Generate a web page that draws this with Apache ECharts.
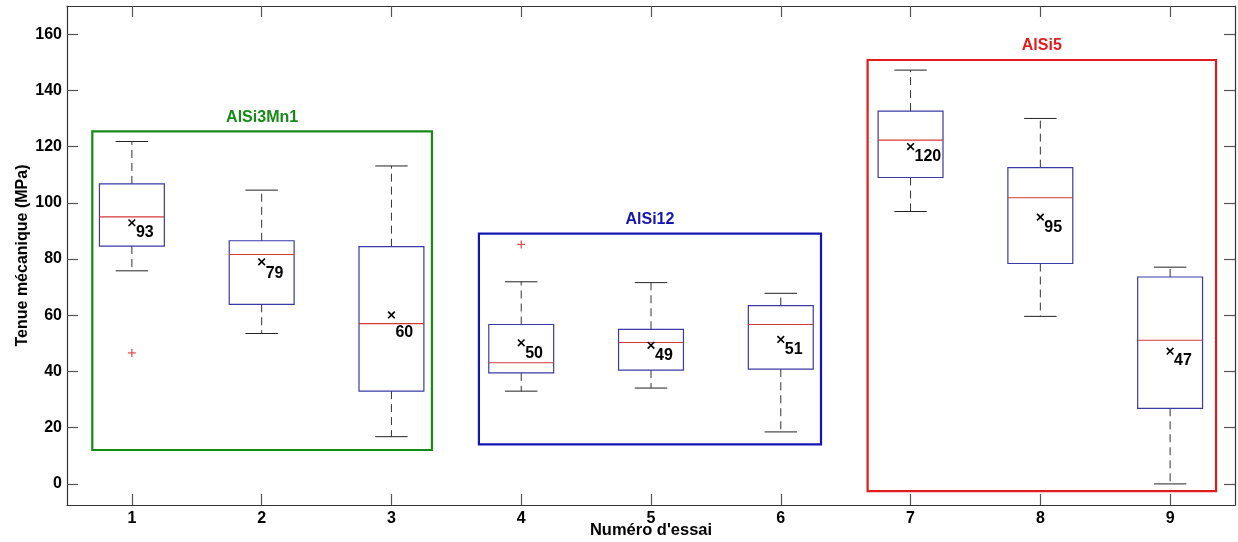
<!DOCTYPE html>
<html>
<head>
<meta charset="utf-8">
<script src="https://cdn.jsdelivr.net/npm/echarts@6/dist/echarts.min.js"></script>
<style>
html,body{margin:0;padding:0;background:#fff;}
#chart{width:1238px;height:542px;}
</style>
</head>
<body>
<div id="chart"></div>
<script>
// ---- Data ----
const trials = [1, 2, 3, 4, 5, 6, 7, 8, 9];
const lowerWhisker = [75.8, 53.5, 16.8, 33.0, 34.1, 18.5, 96.9, 59.6, 0.0];
const q1Values     = [84.6, 63.9, 33.0, 39.5, 40.5, 40.8, 109.0, 78.4, 26.9];
const medians      = [95.0, 81.6, 57.0, 43.1, 50.3, 56.7, 122.3, 101.8, 51.1];
const q3Values     = [106.7, 86.5, 84.4, 56.7, 55.0, 63.4, 132.6, 112.5, 73.6];
const upperWhisker = [121.8, 104.5, 113.1, 71.9, 71.6, 67.8, 147.2, 130.0, 77.1];
const means        = [92.9, 79.0, 60.1, 50.2, 49.3, 51.4, 120.0, 94.9, 47.2];
const outliers     = [[1, 46.6], [4, 85.2]];

const groupNames  = ['AlSi3Mn1', 'AlSi12', 'AlSi5'];
const groupXStart = [0.695, 3.674, 6.669];
const groupXEnd   = [3.312, 6.31, 9.354];
const groupYLow   = [12.06, 14.1, -2.6];
const groupYHigh  = [125.4, 89.0, 150.8];

const xTickValues = [1, 2, 3, 4, 5, 6, 7, 8, 9];
const yTickValues = [0, 20, 40, 60, 80, 100, 120, 140, 160];

// ---- Styling / layout ----
const groupColors = ['#168a16', '#1414b4', '#e01c1c'];
const meanLabelDy = [10, 12, 18, 11, 10, 10, 10, 10, 9];
const FONT = 'Liberation Sans, Arial, sans-serif';

const boxData = trials.map((t, i) => [t, lowerWhisker[i], q1Values[i], medians[i], q3Values[i], upperWhisker[i], means[i]]);
const groupData = groupNames.map((n, i) => [groupXStart[i], groupXEnd[i], groupYLow[i], groupYHigh[i], i]);

function renderBox(params, api) {
  const i = params.dataIndex;
  const x = api.value(0);
  const lo = api.value(1), q1 = api.value(2), md = api.value(3), q3 = api.value(4), hi = api.value(5), mn = api.value(6);
  const bl = api.coord([x - 0.25, q3]);
  const br = api.coord([x + 0.25, q1]);
  const cx = api.coord([x, 0])[0];
  const capL = api.coord([x - 0.125, 0])[0];
  const capR = api.coord([x + 0.125, 0])[0];
  const yLo = api.coord([x, lo])[1], yHi = api.coord([x, hi])[1];
  const yMd = api.coord([x, md])[1];
  const pm = api.coord([x, mn]);
  const dash = {stroke: '#333', lineWidth: 1, lineDash: [8, 5]};
  const solid = {stroke: '#222', lineWidth: 1};
  const s = 3.3;
  return {
    type: 'group',
    children: [
      {type: 'line', shape: {x1: cx, y1: bl[1], x2: cx, y2: yHi}, style: dash},
      {type: 'line', shape: {x1: cx, y1: br[1], x2: cx, y2: yLo}, style: dash},
      {type: 'line', shape: {x1: capL, y1: yHi, x2: capR, y2: yHi}, style: solid},
      {type: 'line', shape: {x1: capL, y1: yLo, x2: capR, y2: yLo}, style: solid},
      {type: 'rect', shape: {x: bl[0], y: bl[1], width: br[0] - bl[0], height: br[1] - bl[1]},
        style: {fill: 'none', stroke: '#3a3aa6', lineWidth: 1.2}},
      {type: 'line', shape: {x1: bl[0], y1: yMd, x2: br[0], y2: yMd}, style: {stroke: '#d23a3a', lineWidth: 1.2}},
      {type: 'line', shape: {x1: pm[0] - s, y1: pm[1] - s, x2: pm[0] + s, y2: pm[1] + s}, style: {stroke: '#000', lineWidth: 1.6}},
      {type: 'line', shape: {x1: pm[0] - s, y1: pm[1] + s, x2: pm[0] + s, y2: pm[1] - s}, style: {stroke: '#000', lineWidth: 1.6}},
      {type: 'text', style: {text: String(Math.round(mn)), x: pm[0] + 4, y: pm[1] + meanLabelDy[i],
        align: 'left', verticalAlign: 'middle', fill: '#000', font: 'bold 16px ' + FONT}}
    ]
  };
}

function renderOutlier(params, api) {
  const p = api.coord([api.value(0), api.value(1)]);
  const s = 4;
  const st = {stroke: '#e04a4a', lineWidth: 1.2};
  return {
    type: 'group',
    children: [
      {type: 'line', shape: {x1: p[0] - s, y1: p[1], x2: p[0] + s, y2: p[1]}, style: st},
      {type: 'line', shape: {x1: p[0], y1: p[1] - s, x2: p[0], y2: p[1] + s}, style: st}
    ]
  };
}

function renderGroup(params, api) {
  const k = api.value(4);
  const p0 = api.coord([api.value(0), api.value(3)]);
  const p1 = api.coord([api.value(1), api.value(2)]);
  const c = groupColors[k];
  return {
    type: 'group',
    children: [
      {type: 'rect', shape: {x: p0[0], y: p0[1], width: p1[0] - p0[0], height: p1[1] - p0[1]},
        style: {fill: 'none', stroke: c, lineWidth: 2.2}},
      {type: 'text', style: {text: groupNames[k], x: (p0[0] + p1[0]) / 2, y: p0[1] - 14,
        align: 'center', verticalAlign: 'middle', fill: c, font: 'bold 16px ' + FONT}}
    ]
  };
}

const axisLineStyle = {color: '#333', width: 1.2};
const tickStyle = {color: '#555', width: 1.2};

const option = {
  animation: false,
  backgroundColor: '#fff',
  grid: {left: 67, right: 3, top: 6, bottom: 37, containLabel: false, outerBoundsMode: 'none'},
  xAxis: [
    {
      type: 'value', min: 0.5, max: 9.5, position: 'bottom',
      name: "Numéro d'essai", nameLocation: 'middle', nameGap: 17, nameMoveOverlap: false,
      nameTextStyle: {fontFamily: FONT, fontWeight: 'bold', fontSize: 16.5, color: '#000'},
      axisLine: {show: true, onZero: false, lineStyle: axisLineStyle},
      axisTick: {show: true, inside: true, length: 11, customValues: xTickValues, lineStyle: tickStyle},
      axisLabel: {show: true, customValues: xTickValues, margin: 6, fontFamily: FONT, fontWeight: 'bold', fontSize: 16, color: '#000'},
      splitLine: {show: false}
    },
    {
      type: 'value', min: 0.5, max: 9.5, position: 'top',
      axisLine: {show: true, onZero: false, lineStyle: axisLineStyle},
      axisTick: {show: true, inside: true, length: 11, customValues: xTickValues, lineStyle: tickStyle},
      axisLabel: {show: false},
      splitLine: {show: false}
    }
  ],
  yAxis: [
    {
      type: 'value', min: -7.5, max: 170, position: 'left',
      name: 'Tenue mécanique (MPa)', nameLocation: 'middle', nameGap: 36, nameMoveOverlap: false,
      nameTextStyle: {fontFamily: FONT, fontWeight: 'bold', fontSize: 16, color: '#000'},
      axisLine: {show: true, onZero: false, lineStyle: axisLineStyle},
      axisTick: {show: true, inside: true, length: 11, customValues: yTickValues, lineStyle: tickStyle},
      axisLabel: {show: true, customValues: yTickValues, margin: 5, fontFamily: FONT, fontWeight: 'bold', fontSize: 16, color: '#000'},
      splitLine: {show: false}
    },
    {
      type: 'value', min: -7.5, max: 170, position: 'right',
      axisLine: {show: true, onZero: false, lineStyle: axisLineStyle},
      axisTick: {show: true, inside: true, length: 11, customValues: yTickValues, lineStyle: tickStyle},
      axisLabel: {show: false},
      splitLine: {show: false}
    }
  ],
  series: [
    {type: 'custom', name: 'groups', xAxisIndex: 0, yAxisIndex: 0, data: groupData, renderItem: renderGroup, silent: true, z: 1},
    {type: 'custom', name: 'boxes', xAxisIndex: 0, yAxisIndex: 0, data: boxData, renderItem: renderBox, silent: true, z: 2},
    {type: 'custom', name: 'outliers', xAxisIndex: 0, yAxisIndex: 0, data: outliers, renderItem: renderOutlier, silent: true, z: 3}
  ]
};

const chart = echarts.init(document.getElementById('chart'), null, {renderer: 'canvas'});
chart.setOption(option);
</script>
</body>
</html>
